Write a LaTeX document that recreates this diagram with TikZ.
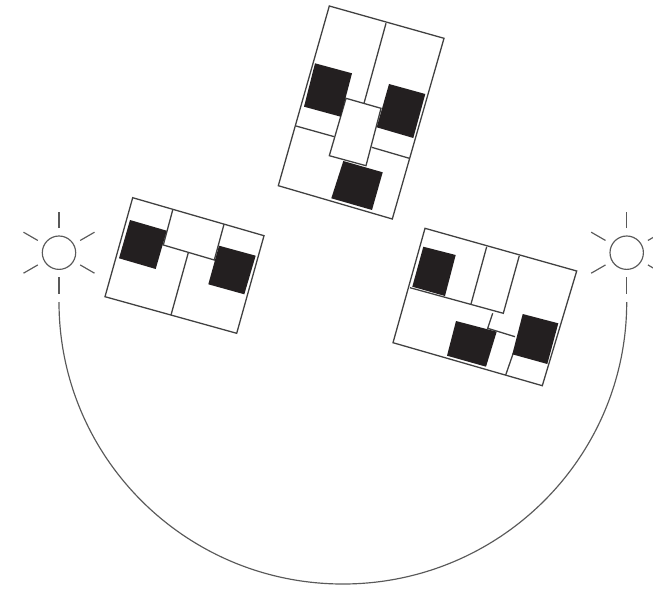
\documentclass[tikz,border=0pt]{standalone}
\usepackage{tikz}
\definecolor{blockgray}{HTML}{231F20}

\begin{document}
\begin{tikzpicture}[
  x=0.03cm, y=-0.03cm,
  wall/.style={draw=black!75, line width=1.1pt, line join=miter},
  block/.style={fill=blockgray},
  ray/.style={draw=black!65, line width=1pt}
]
\useasboundingbox (0,0) rectangle (653,593);
\clip (0,0) rectangle (653,593);

% Top room
\draw[wall] (329.3,6) -- (444,38.3) -- (392.3,219) -- (278.3,185.7) -- cycle;
\draw[wall] (386,23.3) -- (364,103.3);
\draw[wall] (296,126) -- (334.3,136.7);
\draw[wall] (371.7,147.3) -- (409.3,158.3);
\draw[wall] (346,98.3) -- (381,108.3) -- (366,165.7) -- (329.3,155.7) -- cycle;
\fill[block] (315,63.3) -- (352,73.3) -- (340.7,116.7) -- (304,106.7) -- cycle;
\fill[block] (389,84) -- (425.3,94) -- (413.3,138) -- (376.7,127.3) -- cycle;
\fill[block] (343.3,161) -- (382.7,172.3) -- (372,210) -- (331.3,198.3) -- cycle;

% Left room
\draw[wall] (132.7,197.7) -- (264,235.7) -- (236.7,333.3) -- (105,296.7) -- cycle;
\draw[wall] (172.7,210) -- (163.3,245) -- (214.3,260) -- (224,224.3);
\draw[wall] (188.3,252.7) -- (171,315);
\fill[block] (130,220) -- (166.7,230.7) -- (155.7,269) -- (119,258.3) -- cycle;
\fill[block] (219,245.7) -- (255.7,255.7) -- (244.3,294.3) -- (208.3,284.3) -- cycle;

% Right room
\draw[wall] (425,228.3) -- (576.7,271) -- (542.3,385.7) -- (393,342.7) -- cycle;
\draw[wall] (410,287.7) -- (503.3,313.3) -- (519.3,255.7);
\draw[wall] (486.7,246.7) -- (471,304);
\draw[wall] (492.7,313.3) -- (487.7,328.3) -- (515,336.7);
\draw[wall] (513.3,353) -- (505.7,375);
\fill[block] (423.3,246.7) -- (455.7,255) -- (445,296) -- (412.3,286.7) -- cycle;
\fill[block] (456,321) -- (496.7,331.7) -- (486,366.7) -- (447,355.7) -- cycle;
\fill[block] (522.7,314) -- (558.3,323.3) -- (547.3,364) -- (512.3,354.3) -- cycle;

% Lamps
\foreach \cx in {59, 626.7} {
  \draw[ray] (\cx,252.7) circle[radius=16.7];
  \foreach \a in {30,90,150,210,270,330} {
    \draw[ray] (\cx,252.7) ++(\a:24.5) -- ++(\a:16.5);
  }
}

% Path between the lamps
\draw[ray] (59,302) arc[start angle=180, end angle=0, x radius=283.85, y radius=282];

\end{tikzpicture}
\end{document}
